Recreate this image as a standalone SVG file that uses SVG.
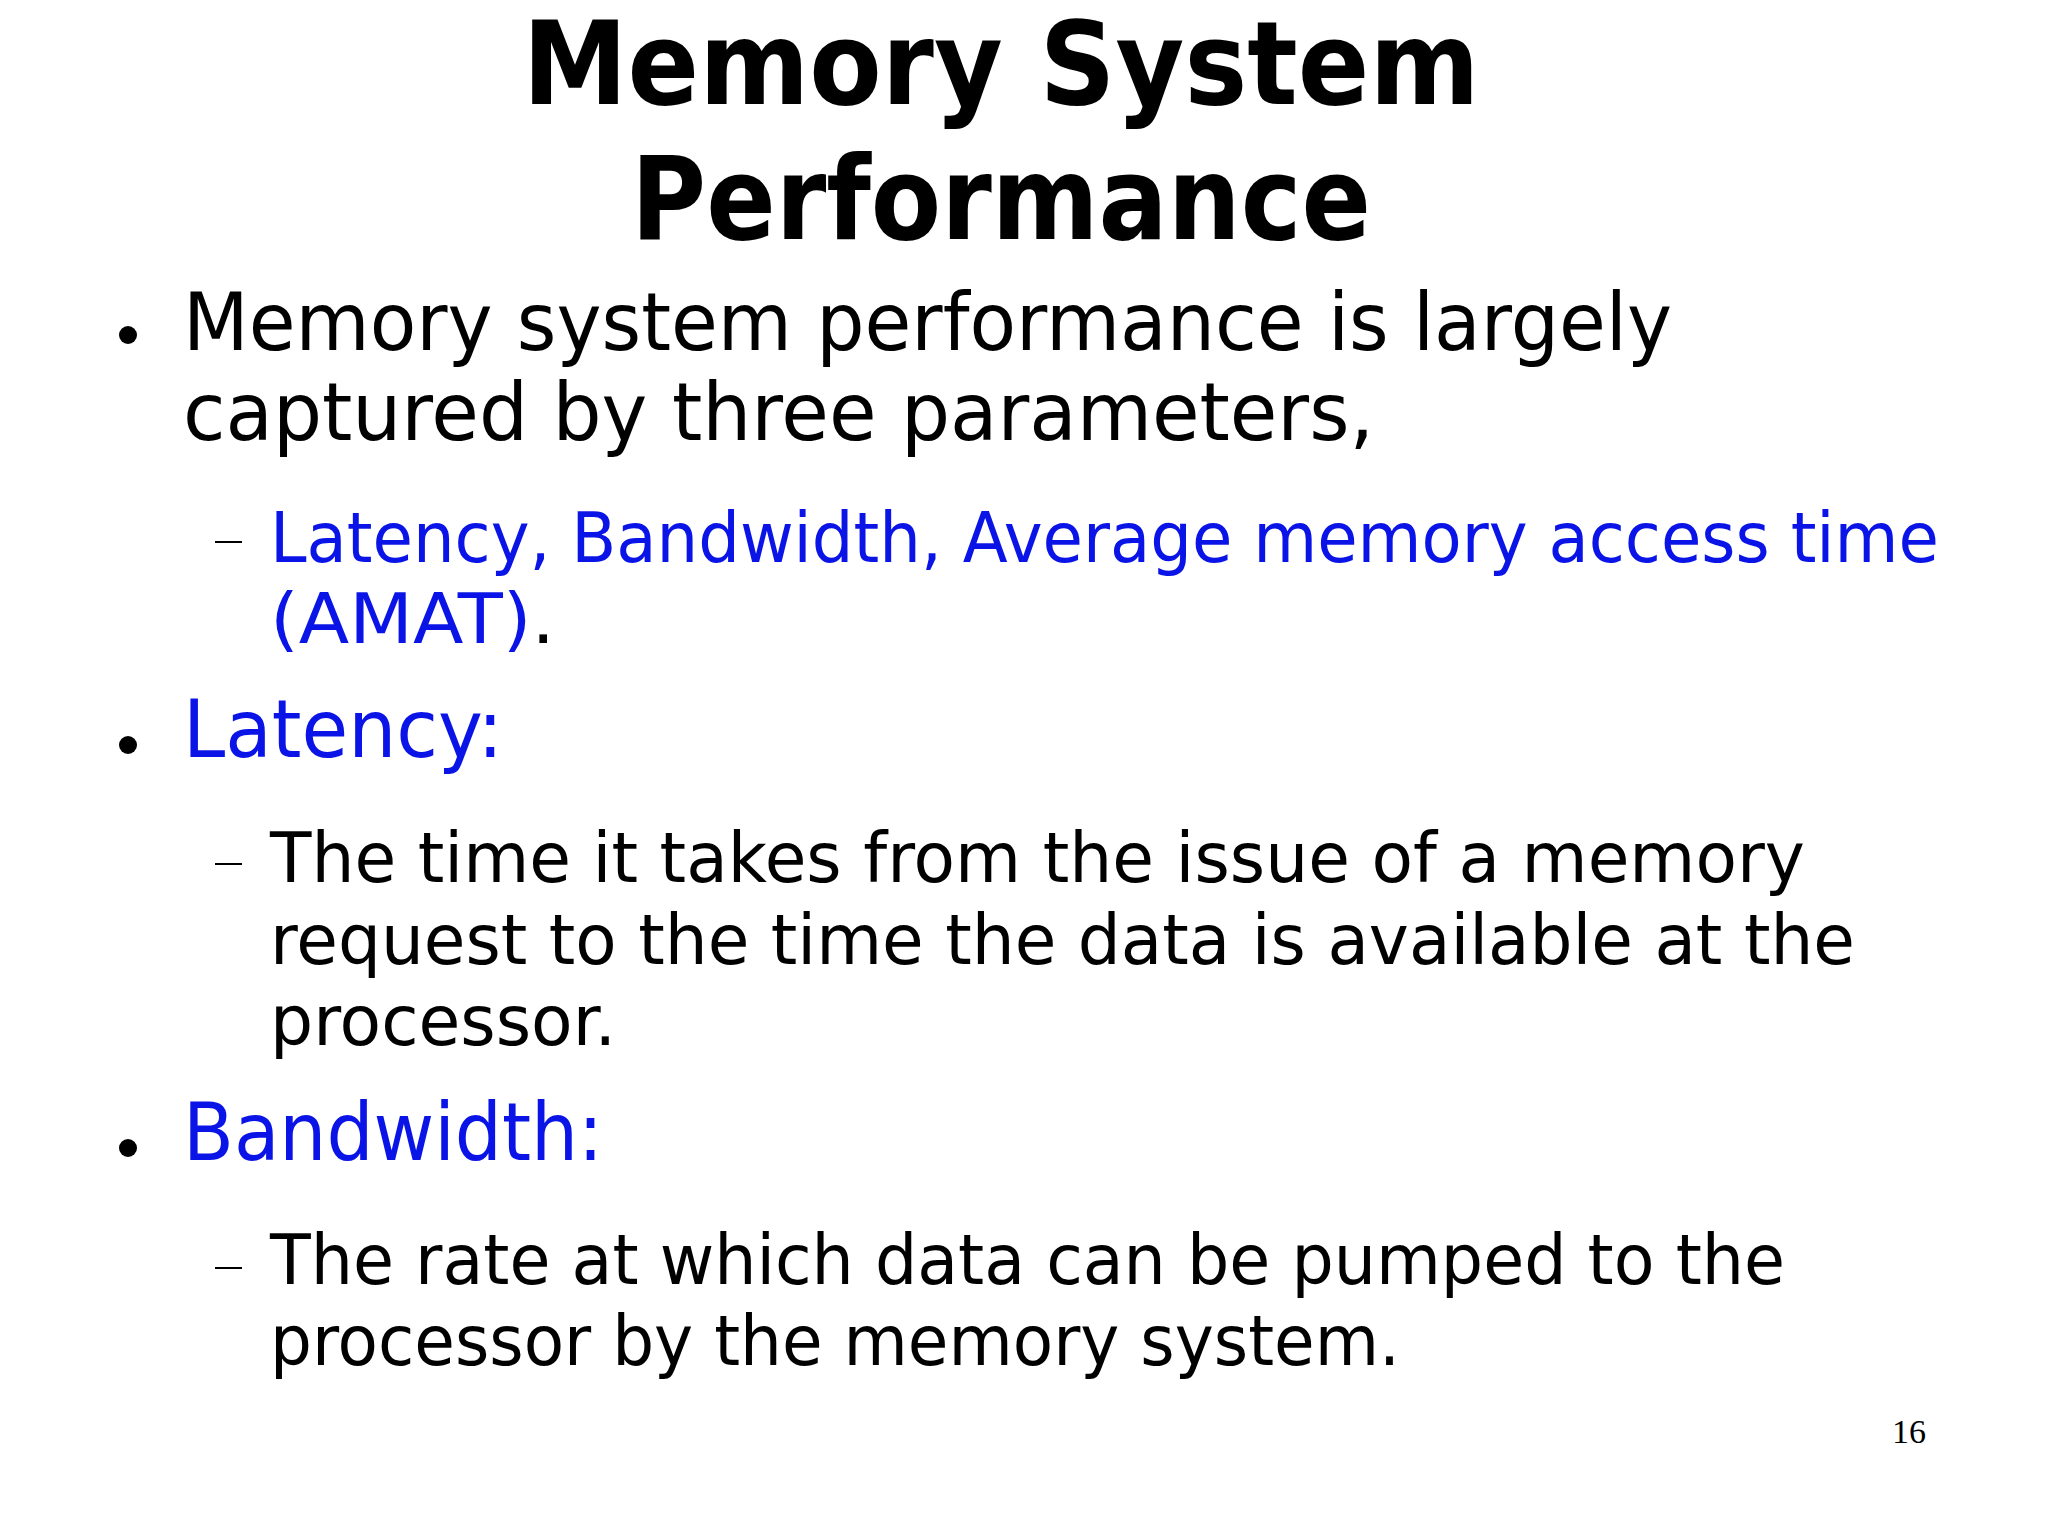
<svg xmlns="http://www.w3.org/2000/svg" width="2048" height="1536" viewBox="0 0 2048 1536">
<style>
.t{font-family:"DejaVu Sans","Noto Sans",sans-serif;font-weight:bold;font-size:116px;fill:#000}
.b{font-family:"DejaVu Sans","Noto Sans",sans-serif;font-size:80px;fill:#000}
.s{font-family:"DejaVu Sans","Noto Sans",sans-serif;font-size:70px;fill:#000}
.blue{fill:#0a14e6}
.d{stroke:#000;stroke-width:2}
</style>
<rect width="2048" height="1536" fill="#fff"/>
<g id="title">
<text class="t" x="1001" y="104" text-anchor="middle" textLength="957" lengthAdjust="spacingAndGlyphs">Memory System</text>
<text class="t" x="1001" y="239" text-anchor="middle" textLength="740" lengthAdjust="spacingAndGlyphs">Performance</text>
</g>
<g id="bullet1">
<circle cx="128" cy="335" r="9"/>
<text class="b" x="183" y="350" textLength="1489" lengthAdjust="spacingAndGlyphs">Memory system performance is largely</text>
<text class="b" x="183" y="440" textLength="1191" lengthAdjust="spacingAndGlyphs">captured by three parameters,</text>
<line class="d" x1="215" y1="542" x2="242" y2="542"/>
<text class="s blue" x="270" y="562" textLength="1669" lengthAdjust="spacingAndGlyphs">Latency, Bandwidth, Average memory access time</text>
<text class="s" x="270" y="643" textLength="285" lengthAdjust="spacingAndGlyphs"><tspan class="blue">(AMAT)</tspan>.</text>
</g>
<g id="bullet2">
<circle cx="128" cy="745" r="9"/>
<text class="b blue" x="183" y="757" textLength="320" lengthAdjust="spacingAndGlyphs">Latency:</text>
<line class="d" x1="215" y1="864" x2="242" y2="864"/>
<text class="s" x="270" y="882" textLength="1535" lengthAdjust="spacingAndGlyphs">The time it takes from the issue of a memory</text>
<text class="s" x="270" y="964" textLength="1585" lengthAdjust="spacingAndGlyphs">request to the time the data is available at the</text>
<text class="s" x="270" y="1045" textLength="346" lengthAdjust="spacingAndGlyphs">processor.</text>
</g>
<g id="bullet3">
<circle cx="128" cy="1148" r="9"/>
<text class="b blue" x="183" y="1160" textLength="420" lengthAdjust="spacingAndGlyphs">Bandwidth:</text>
<line class="d" x1="215" y1="1268" x2="242" y2="1268"/>
<text class="s" x="270" y="1284" textLength="1515" lengthAdjust="spacingAndGlyphs">The rate at which data can be pumped to the</text>
<text class="s" x="270" y="1365" textLength="1130" lengthAdjust="spacingAndGlyphs">processor by the memory system.</text>
</g>
<text x="1909" y="1443" text-anchor="middle" font-family="Liberation Serif, serif" font-size="34">16</text>
</svg>
